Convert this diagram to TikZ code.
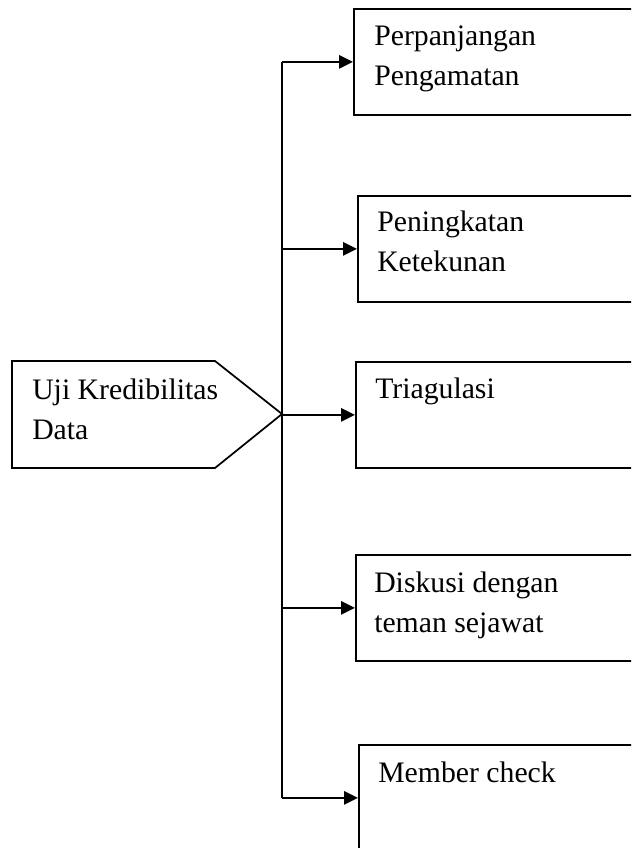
\documentclass[tikz,border=0pt]{standalone}
\usepackage{fontspec}
\setmainfont{Liberation Serif}
\usetikzlibrary{arrows.meta}

\tikzset{
  kotak/.style={draw, line width=1.3pt, anchor=north west, minimum width=220pt, minimum height=79.5pt, inner sep=0pt},
  teks/.style={anchor=base west, align=left, inner sep=0pt, font=\fontsize{22.3}{30}\selectfont},
  panah/.style={-{Triangle[length=10.5pt,width=10pt]}, line width=1.4pt},
  garis/.style={line width=1.3pt}
}

\begin{document}
\begin{tikzpicture}[x=0.75pt,y=-0.75pt]
\clip (0,0) rectangle (631,848);

% uji kredibilitas
\draw[garis] (12,361) -- (215,361) -- (282,414) -- (215,468) -- (12,468) -- cycle;
\coordinate (ujung) at (282,414);
\node[teks] (uji) at (32,439) {Uji Kredibilitas\\Data};

% kotak kanan
\node[kotak] (k1) at (353,8) {};
\node[teks] (t1) at (374,86) {Perpanjangan\\Pengamatan};

\node[kotak] (k2) at (357,195) {};
\node[teks] (t2) at (377,272) {Peningkatan\\Ketekunan};

\node[kotak] (k3) at (355,361) {};
\node[teks] (t3) at (375,398) {Triagulasi};

\node[kotak] (k4) at (355,554) {};
\node[teks] (t4) at (374,632) {Diskusi dengan\\teman sejawat};

\node[kotak] (k5) at (358,744) {};
\node[teks] (t5) at (378,782) {Member check};

% batang dan panah
\draw[garis] (k1.west -| ujung) -- (k5.west -| ujung);
\foreach \k in {k1,k2,k3,k4,k5}
  \draw[panah] (\k.west -| ujung) -- (\k.west);

\end{tikzpicture}
\end{document}
